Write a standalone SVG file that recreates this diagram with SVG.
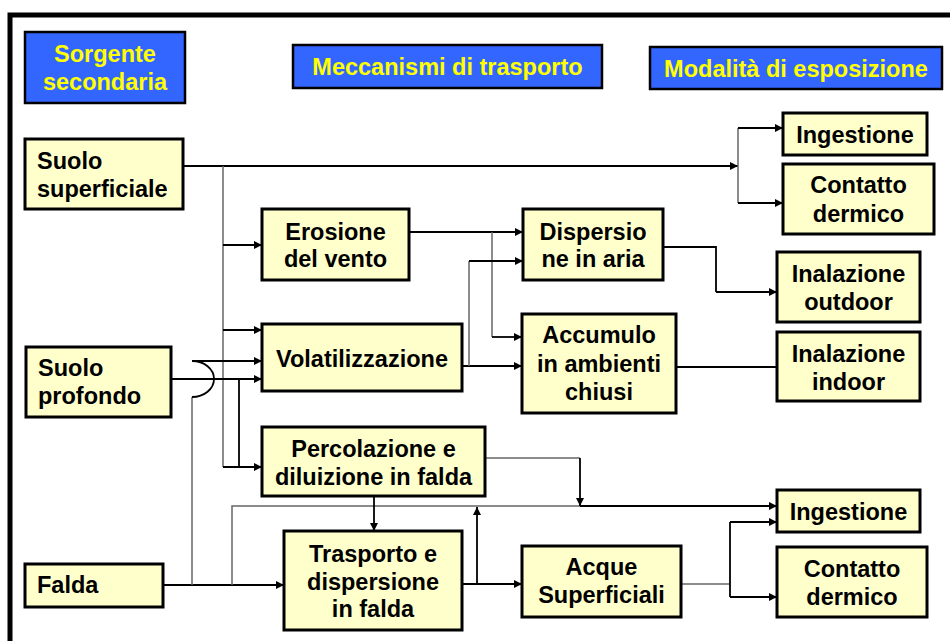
<svg xmlns="http://www.w3.org/2000/svg" width="950" height="641" viewBox="0 0 950 641">
<style>
.hdr rect{fill:#3366FF;stroke:#000;stroke-width:2.5}
.hdr text{fill:#FFFF00;font-family:"Liberation Sans",Arial,sans-serif;font-weight:bold;font-size:23.5px;text-anchor:middle}
.node rect{fill:#FFFFCC;stroke:#000;stroke-width:3}
.node text{fill:#000;font-family:"Liberation Sans",Arial,sans-serif;font-weight:bold;font-size:23.5px;text-anchor:middle}
.node text.l{text-anchor:start}
.ln{fill:none;stroke:#000;stroke-width:1.8}
.gr{fill:none;stroke:#666;stroke-width:1.5}
.ar{marker-end:url(#arr)}
</style>
<defs>
<marker id="arr" viewBox="0 0 10 10" refX="10" refY="5" markerWidth="9" markerHeight="8" markerUnits="userSpaceOnUse" orient="auto">
<path d="M0,0 L10,5 L0,10 z" fill="#000"/>
</marker>
</defs>
<rect width="950" height="641" fill="#fff"/>
<rect x="10" y="15" width="960" height="660" fill="none" stroke="#000" stroke-width="5"/>

<g id="connectors">
<path class="ln ar" d="M183,166 H738"/>
<path class="gr" d="M738,128 V203"/>
<path class="ln ar" d="M738,128 H783"/>
<path class="ln ar" d="M738,203 H783"/>
<path class="gr" d="M223,166 V467"/>
<path class="ln ar" d="M223,245 H262"/>
<path class="ln ar" d="M223,330 H262"/>
<path class="ln ar" d="M223,467 H262"/>
<path class="ln ar" d="M171,379 H262"/>
<path class="ln" d="M239,379 V467"/>
<path class="ln ar" d="M163,585 H284"/>
<path class="gr" d="M192,585 V397"/>
<path class="ln" d="M192,397 A22,18 0 0 0 192,361"/>
<path class="ln ar" d="M192,361 H262"/>
<path class="gr" d="M232,585 V506 H580"/>
<path class="ln ar" d="M580,506 H777"/>
<path class="gr" d="M485,458 H580"/>
<path class="ln ar" d="M580,458 V506"/>
<path class="ln ar" d="M374,496 V531"/>
<path class="ln ar" d="M462,584 H522"/>
<path class="ln ar" d="M477,584 V507"/>
<path class="gr" d="M681,584 H730"/>
<path class="ln" d="M730,522 V597"/>
<path class="ln ar" d="M730,522 H777"/>
<path class="ln ar" d="M730,597 H777"/>
<path class="ln ar" d="M409,232 H523"/>
<path class="gr" d="M492,232 V337"/>
<path class="ln ar" d="M492,337 H522"/>
<path class="ln ar" d="M462,366 H522"/>
<path class="gr" d="M469,366 V261"/>
<path class="ln ar" d="M469,261 H523"/>
<path class="ln" d="M663,247 H716 V292"/>
<path class="ln ar" d="M716,292 H777"/>
<path class="ln" d="M676,367 H777"/>
</g>

<g id="h-sorgente" class="hdr"><rect x="25" y="32" width="160" height="71"/><text x="105" y="62">Sorgente</text><text x="105" y="90">secondaria</text></g>
<g id="h-meccanismi" class="hdr"><rect x="293" y="45" width="309" height="43"/><text x="447.5" y="75">Meccanismi di trasporto</text></g>
<g id="h-modalita" class="hdr"><rect x="650" y="47" width="292" height="42"/><text x="796" y="77">Modalità di esposizione</text></g>

<g id="n-suolo-sup" class="node"><rect x="25" y="139" width="158" height="70"/><text class="l" x="37" y="169">Suolo</text><text class="l" x="37" y="197">superficiale</text></g>
<g id="n-suolo-prof" class="node"><rect x="26" y="347" width="145" height="70"/><text class="l" x="38" y="376">Suolo</text><text class="l" x="38" y="404">profondo</text></g>
<g id="n-falda" class="node"><rect x="25" y="564" width="138" height="43"/><text class="l" x="37" y="593">Falda</text></g>

<g id="n-erosione" class="node"><rect x="262" y="209" width="147" height="71"/><text x="335.5" y="240">Erosione</text><text x="335.5" y="267">del vento</text></g>
<g id="n-volatil" class="node"><rect x="262" y="324" width="200" height="67"/><text x="362" y="367">Volatilizzazione</text></g>
<g id="n-percol" class="node"><rect x="262" y="427" width="223" height="69"/><text x="373.5" y="457">Percolazione e</text><text x="373.5" y="485">diluizione in falda</text></g>
<g id="n-trasporto" class="node"><rect x="284" y="531" width="178" height="99"/><text x="373" y="562">Trasporto e</text><text x="373" y="590">dispersione</text><text x="373" y="617">in falda</text></g>

<g id="n-dispersio" class="node"><rect x="523" y="209" width="140" height="71"/><text x="593" y="240">Dispersio</text><text x="593" y="267">ne in aria</text></g>
<g id="n-accumulo" class="node"><rect x="522" y="314" width="154" height="99"/><text x="599" y="343">Accumulo</text><text x="599" y="372">in ambienti</text><text x="599" y="400">chiusi</text></g>
<g id="n-acque" class="node"><rect x="522" y="546" width="159" height="71"/><text x="601.5" y="575">Acque</text><text x="601.5" y="603">Superficiali</text></g>

<g id="n-ingest1" class="node"><rect x="783" y="113" width="144" height="42"/><text x="855" y="143">Ingestione</text></g>
<g id="n-contatto1" class="node"><rect x="783" y="164" width="151" height="70"/><text x="858.5" y="193">Contatto</text><text x="858.5" y="222">dermico</text></g>
<g id="n-inal-out" class="node"><rect x="777" y="252" width="143" height="70"/><text x="848.5" y="282">Inalazione</text><text x="848.5" y="310">outdoor</text></g>
<g id="n-inal-in" class="node"><rect x="777" y="332" width="143" height="69"/><text x="848.5" y="362">Inalazione</text><text x="848.5" y="390">indoor</text></g>
<g id="n-ingest2" class="node"><rect x="777" y="490" width="143" height="42"/><text x="848.5" y="520">Ingestione</text></g>
<g id="n-contatto2" class="node"><rect x="777" y="547" width="150" height="70"/><text x="852" y="577">Contatto</text><text x="852" y="605">dermico</text></g>
</svg>
